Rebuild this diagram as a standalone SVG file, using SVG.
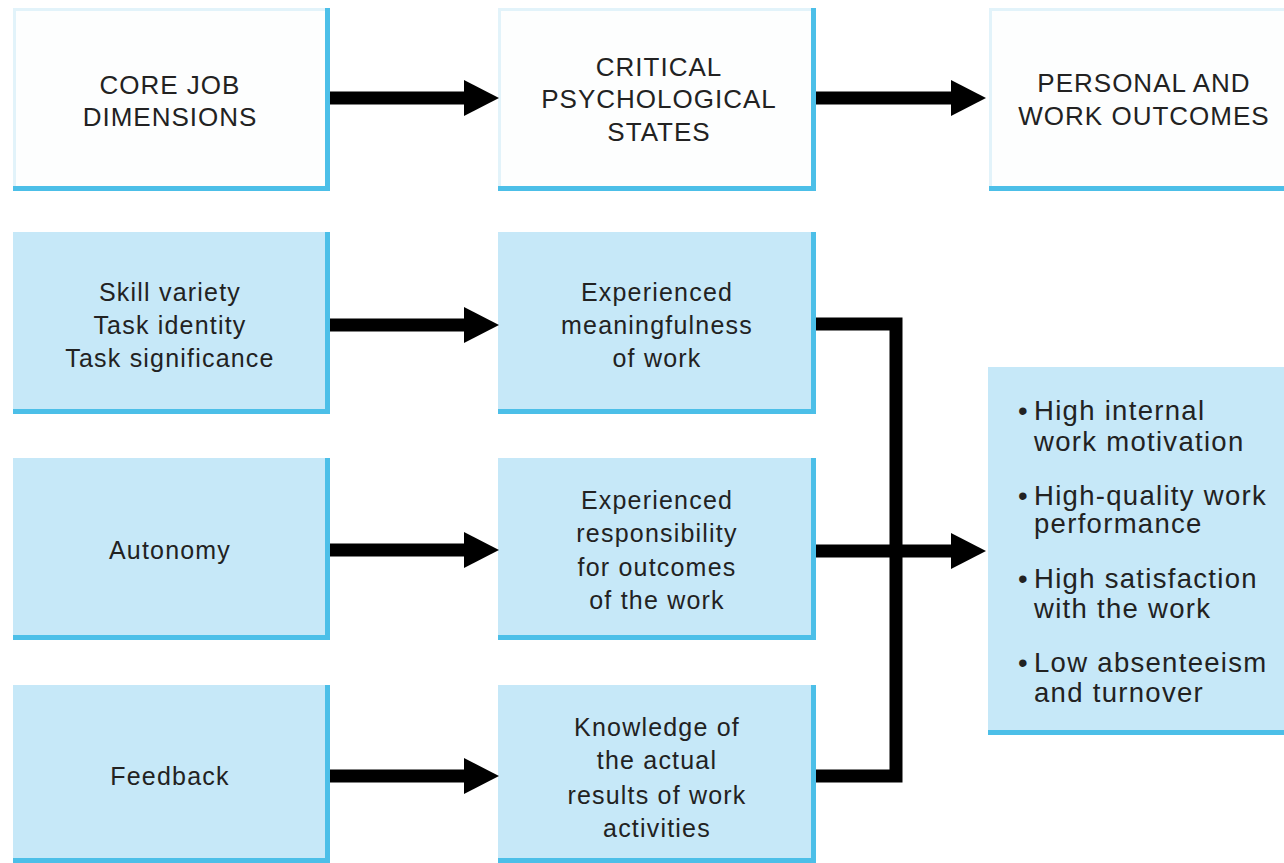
<svg xmlns="http://www.w3.org/2000/svg" width="1284" height="863" viewBox="0 0 1284 863">
  <style>
    .head { fill: #fdfefe; }
    .cell { fill: #c6e8f8; }
    .edge { fill: none; stroke: #4cbfe8; stroke-width: 5; }
    .soft { fill: none; stroke: #e2f3fa; stroke-width: 3; }
    .t { font-family: "Liberation Sans", Arial, sans-serif; fill: #222; text-anchor: middle; }
    .cap { font-size: 26px; letter-spacing: 1px; }
    .body { font-size: 25px; letter-spacing: 1.2px; }
    .list { font-size: 27.5px; letter-spacing: 1.3px; text-anchor: start; }
    .wire { fill: none; stroke: #000; stroke-width: 13; stroke-linejoin: miter; }
  </style>
  <defs>
    <!-- arrowhead begins where the shaft ends -->
    <marker id="tip" markerUnits="userSpaceOnUse" markerWidth="36" markerHeight="36" refX="0" refY="18" orient="auto">
      <path d="M0,0 L35,18 L0,36 Z" fill="#000"/>
    </marker>
  </defs>
  <rect width="1284" height="863" fill="#fff"/>

  <!-- header row -->
  <g id="core-job-dimensions">
    <rect class="head" x="13" y="8" width="317" height="183"/>
    <path class="soft" d="M14.5,188 V9.5 H327"/>
    <path class="edge" d="M13,188.5 H327.5 V8"/>
    <text class="t cap" x="170" y="94">CORE JOB</text>
    <text class="t cap" x="170" y="126">DIMENSIONS</text>
  </g>
  <g id="critical-psychological-states">
    <rect class="head" x="498" y="8" width="318" height="183"/>
    <path class="soft" d="M499.5,188 V9.5 H813"/>
    <path class="edge" d="M498,188.5 H813.5 V8"/>
    <text class="t cap" x="659" y="76">CRITICAL</text>
    <text class="t cap" x="659" y="108">PSYCHOLOGICAL</text>
    <text class="t cap" x="659" y="141">STATES</text>
  </g>
  <g id="personal-work-outcomes">
    <rect class="head" x="989" y="8" width="295" height="183"/>
    <path class="soft" d="M990.5,188 V9.5 H1284"/>
    <path class="edge" d="M989,188.5 H1284"/>
    <text class="t cap" x="1144" y="92">PERSONAL AND</text>
    <text class="t cap" x="1144" y="125">WORK OUTCOMES</text>
  </g>

  <!-- core job dimensions -->
  <g id="skills">
    <rect class="cell" x="13" y="232" width="317" height="182"/>
    <path class="edge" d="M13,411.5 H327.5 V232"/>
    <text class="t body" x="170" y="301">Skill variety</text>
    <text class="t body" x="170" y="334">Task identity</text>
    <text class="t body" x="170" y="367">Task significance</text>
  </g>
  <g id="autonomy">
    <rect class="cell" x="13" y="458" width="317" height="182"/>
    <path class="edge" d="M13,637.5 H327.5 V458"/>
    <text class="t body" x="170" y="559">Autonomy</text>
  </g>
  <g id="feedback">
    <rect class="cell" x="13" y="685" width="317" height="178"/>
    <path class="edge" d="M13,860.5 H327.5 V685"/>
    <text class="t body" x="170" y="785">Feedback</text>
  </g>

  <!-- psychological states -->
  <g id="meaningfulness">
    <rect class="cell" x="498" y="232" width="318" height="182"/>
    <path class="edge" d="M498,411.5 H813.5 V232"/>
    <text class="t body" x="657" y="301">Experienced</text>
    <text class="t body" x="657" y="334">meaningfulness</text>
    <text class="t body" x="657" y="367">of work</text>
  </g>
  <g id="responsibility">
    <rect class="cell" x="498" y="458" width="318" height="182"/>
    <path class="edge" d="M498,637.5 H813.5 V458"/>
    <text class="t body" x="657" y="509">Experienced</text>
    <text class="t body" x="657" y="542">responsibility</text>
    <text class="t body" x="657" y="576">for outcomes</text>
    <text class="t body" x="657" y="609">of the work</text>
  </g>
  <g id="knowledge">
    <rect class="cell" x="498" y="685" width="318" height="178"/>
    <path class="edge" d="M498,860.5 H813.5 V685"/>
    <text class="t body" x="657" y="736">Knowledge of</text>
    <text class="t body" x="657" y="769">the actual</text>
    <text class="t body" x="657" y="804">results of work</text>
    <text class="t body" x="657" y="837">activities</text>
  </g>

  <!-- outcomes -->
  <g id="outcomes">
    <rect class="cell" x="988" y="367" width="296" height="368"/>
    <path class="edge" d="M988,732.5 H1284"/>
    <g class="t list">
      <text x="1018" y="420">•</text><text x="1034" y="420">High internal</text>
      <text x="1034" y="451">work motivation</text>
      <text x="1018" y="505">•</text><text x="1034" y="505">High-quality work</text>
      <text x="1034" y="533">performance</text>
      <text x="1018" y="588">•</text><text x="1034" y="588">High satisfaction</text>
      <text x="1034" y="618">with the work</text>
      <text x="1018" y="672">•</text><text x="1034" y="672">Low absenteeism</text>
      <text x="1034" y="702">and turnover</text>
    </g>
  </g>

  <!-- connectors -->
  <g id="connectors">
    <path class="wire" d="M330,98 H464" marker-end="url(#tip)"/>
    <path class="wire" d="M816,98 H951" marker-end="url(#tip)"/>
    <path class="wire" d="M330,325 H464" marker-end="url(#tip)"/>
    <path class="wire" d="M330,550 H464" marker-end="url(#tip)"/>
    <path class="wire" d="M330,776 H464" marker-end="url(#tip)"/>
    <path class="wire" d="M816,324 H896 V776 H816"/>
    <path class="wire" d="M816,551 H951" marker-end="url(#tip)"/>
  </g>
</svg>
